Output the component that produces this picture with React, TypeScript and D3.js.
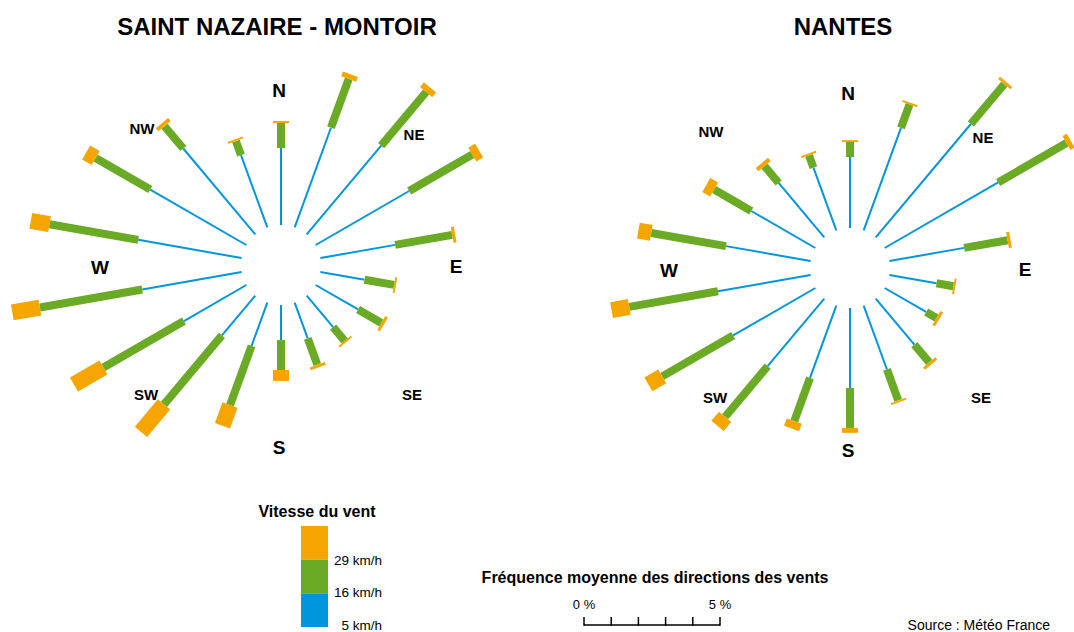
import React from "react";
import * as d3 from "d3";

// ---- data (percent of time, per direction, per speed class) ----
const angles = [0, 20, 40, 60, 80, 100, 120, 140, 160, 180, 200, 220, 240, 260, 280, 300, 320, 340];

const stNazaireLow = [2.83, 3.9, 4.26, 3.97, 2.79, 1.65, 1.8, 1.51, 1.4, 1.29, 1.69, 1.91, 2.65, 3.71, 3.86, 4.08, 4.12, 2.83];
const stNazaireMid = [0.92, 1.91, 2.57, 2.68, 2.13, 1.1, 0.99, 0.66, 1.03, 1.1, 2.32, 3.31, 3.42, 3.82, 3.31, 2.32, 1.07, 0.55];
const stNazaireHigh = [0.07, 0.18, 0.22, 0.29, 0.11, 0.07, 0.11, 0.07, 0.11, 0.4, 0.81, 1.32, 1.25, 1.03, 0.7, 0.4, 0.15, 0.07];

const nantesLow = [2.61, 4.01, 5.44, 4.82, 2.79, 1.76, 1.76, 2.21, 2.5, 2.94, 2.83, 3.24, 3.49, 3.46, 3.16, 2.72, 2.61, 2.46];
const nantesMid = [0.55, 0.92, 1.91, 2.9, 1.62, 0.63, 0.44, 0.85, 1.21, 1.47, 1.69, 2.43, 3.01, 3.31, 2.79, 1.58, 0.81, 0.48];
const nantesHigh = [0.07, 0.07, 0.11, 0.18, 0.11, 0.07, 0.11, 0.11, 0.07, 0.18, 0.29, 0.44, 0.59, 0.66, 0.48, 0.33, 0.15, 0.07];

const compassLabels = ["N", "NE", "E", "SE", "S", "SW", "W", "NW"];
const speedLabels = ["29 km/h", "16 km/h", "5 km/h"];
const scaleTicks = [0, 1, 2, 3, 4, 5];
const scaleTickLabels = ["0 %", "5 %"];

// ---- style ----
const ORANGE = "#f5a500";
const GREEN = "#6aaa25";
const BLUE = "#0096db";
const FONT = "'Liberation Sans', Arial, Helvetica, sans-serif";

const INNER = 40;
const PX_PER_5 = 136;
const r = d3.scaleLinear().domain([0, 5]).range([INNER, INNER + PX_PER_5]);

// label offsets (layout)
const labelOffsets: Record<string, [number, number, number]> = {
  N: [-2, -175, 19],
  NE: [133, -131, 15],
  E: [175, 1, 19],
  SE: [131, 129, 15],
  S: [-2, 182, 19],
  SW: [-135, 129, 15],
  W: [-181, 2, 19],
  NW: [-139, -137, 15],
};

function Rose({ cx, cy, title, titleX, low, mid, high }: any) {
  return (
    <g>
      <text x={titleX} y={35} textAnchor="middle" fontFamily={FONT} fontWeight="bold" fontSize={24} fill="#000">
        {title}
      </text>
      {angles.map((a, i) => {
        const r0 = r(0);
        const r1 = r(low[i]);
        const r2 = r(low[i] + mid[i]);
        const r3 = r(low[i] + mid[i] + high[i]);
        return (
          <g key={a} transform={`translate(${cx},${cy}) rotate(${a})`}>
            <line x1={0} x2={0} y1={-r0} y2={-r1} stroke={BLUE} strokeWidth={2} />
            <rect x={-4} width={8} y={-r2} height={r2 - r1} fill={GREEN} />
            <rect x={-8} width={16} y={-r3} height={Math.max(r3 - r2, 1.5)} fill={ORANGE} />
          </g>
        );
      })}
      {compassLabels.map((l) => {
        const [dx, dy, fs] = labelOffsets[l];
        return (
          <text key={l} x={cx + dx} y={cy + dy} textAnchor="middle" dominantBaseline="central"
            fontFamily={FONT} fontWeight="bold" fontSize={fs} fill="#000">
            {l}
          </text>
        );
      })}
    </g>
  );
}

export default function App() {
  const legendColors = [ORANGE, GREEN, BLUE];
  const legendY = d3.scaleBand<number>().domain([0, 1, 2]).range([526, 627]).paddingInner(0);
  const sx = d3.scaleLinear().domain([0, 5]).range([584, 584 + PX_PER_5]);
  return (
    <svg width={1074} height={632} style={{ position: "absolute", left: 0, top: 0, background: "#fff" }}>
      <rect width={1074} height={632} fill="#fff" />
      <Rose cx={281} cy={265} titleX={277} title="SAINT NAZAIRE - MONTOIR"
        low={stNazaireLow} mid={stNazaireMid} high={stNazaireHigh} />
      <Rose cx={850} cy={268} titleX={843} title="NANTES"
        low={nantesLow} mid={nantesMid} high={nantesHigh} />

      {/* speed legend */}
      <text x={317} y={517} textAnchor="middle" fontFamily={FONT} fontWeight="bold" fontSize={16}>
        Vitesse du vent
      </text>
      {legendColors.map((c, i) => (
        <rect key={i} x={301} width={27} y={legendY(i)} height={legendY.bandwidth()} fill={c} />
      ))}
      {speedLabels.map((s, i) => (
        <text key={s} x={382} y={[565, 597, 630][i]} textAnchor="end" fontFamily={FONT} fontSize={13.5}>
          {s}
        </text>
      ))}

      {/* frequency scale */}
      <text x={655} y={583} textAnchor="middle" fontFamily={FONT} fontWeight="bold" fontSize={16}>
        Fréquence moyenne des directions des vents
      </text>
      <text x={sx(0)} y={609} textAnchor="middle" fontFamily={FONT} fontSize={13}>{scaleTickLabels[0]}</text>
      <text x={sx(5)} y={609} textAnchor="middle" fontFamily={FONT} fontSize={13}>{scaleTickLabels[1]}</text>
      <line x1={sx(0)} x2={sx(5)} y1={625} y2={625} stroke="#000" strokeWidth={1.5} />
      {scaleTicks.map((t) => (
        <line key={t} x1={sx(t)} x2={sx(t)} y1={625.75} y2={617} stroke="#000" strokeWidth={1.5} />
      ))}

      <text x={1050} y={630} textAnchor="end" fontFamily={FONT} fontSize={14}>
        Source : Météo France
      </text>
    </svg>
  );
}
